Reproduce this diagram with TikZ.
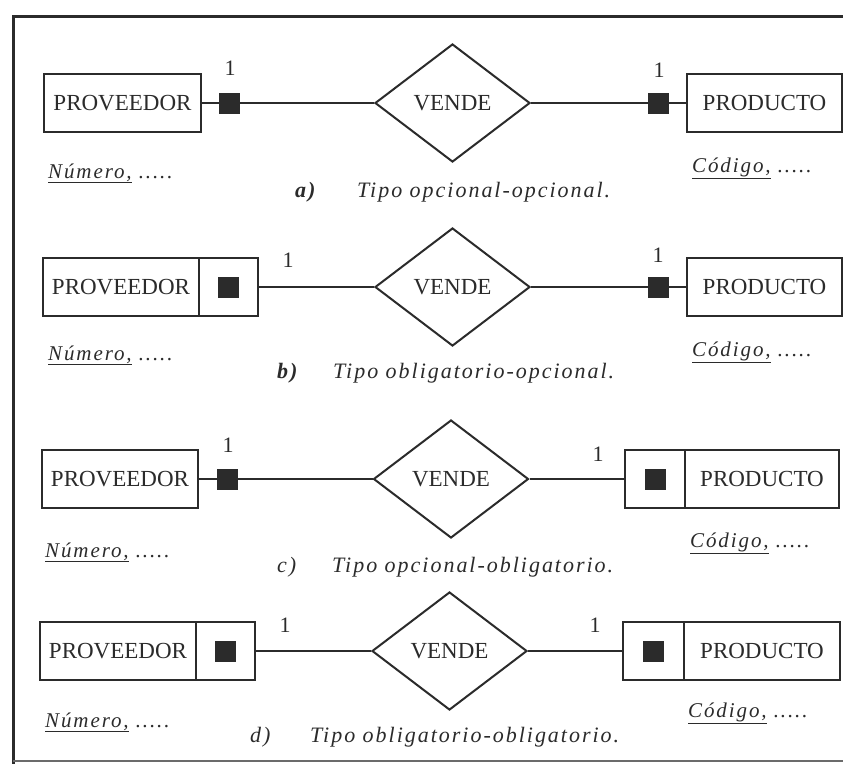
\documentclass[tikz,border=0pt]{standalone}
\usepackage{fontspec}
\setmainfont{Liberation Serif}
\newfontfamily\spacedserif{Liberation Serif}[LetterSpace=9]
\usetikzlibrary{shapes.geometric}

\definecolor{ink}{HTML}{2B2B2B}

\tikzset{
  ent/.style={draw=ink, line width=1.5pt, rectangle, inner sep=0pt,
    minimum height=58pt, text=ink, font=\fontsize{23}{24}\selectfont},
  cell/.style={draw=ink, line width=1.5pt, rectangle, inner sep=0pt,
    minimum height=58pt},
  dot/.style={fill=ink, draw=ink, rectangle, inner sep=0pt, minimum size=20pt},
  rel/.style={draw=ink, line width=2pt, diamond, inner sep=0pt,
    minimum width=155pt, minimum height=118pt, text=ink,
    font=\fontsize{23}{24}\selectfont},
  link/.style={draw=ink, line width=1.4pt},
  card/.style={anchor=base, text=ink, inner sep=0pt, font=\fontsize{22}{22}\selectfont},
  attr/.style={anchor=base west, text=ink, inner sep=0pt,
    font=\spacedserif\itshape\fontsize{21}{23}\selectfont},
  tag/.style={anchor=base west, text=ink, inner sep=0pt,
    font=\spacedserif\itshape\fontsize{22}{24}\selectfont},
  boldtag/.style={tag, font=\spacedserif\bfseries\itshape\fontsize{22}{24}\selectfont},
  frame/.style={draw=ink, line width=3pt}
}

\newcommand{\numattr}{\underline{Número,}\ .....}
\newcommand{\codattr}{\underline{Código,}\ .....}

\begin{document}
\begin{tikzpicture}[x=1pt,y=-1pt]
\useasboundingbox (0,0) rectangle (843,764);
\fill[white] (0,0) rectangle (843,764);

% outer frame (open on the right)
\coordinate (fa) at (13,16);
\coordinate (fb) at (843,16);
\coordinate (fc) at (13,764);
\coordinate (fd) at (13,761);
\coordinate (fe) at (843,761);
\draw[frame] (fb) -- (fa) -- (fc);
\draw[draw=ink!70, line width=1.5pt] (fd) -- (fe);

% ---------- a) opcional-opcional ----------
\node[ent, minimum width=157pt] (pa) at (122.5,103) {PROVEEDOR};
\node[dot] (ma1) at (229.5,103) {};
\node[rel] (ra) at (452.5,103) {VENDE};
\node[dot] (ma2) at (658,103) {};
\node[ent, minimum width=155pt] (qa) at (764.5,103) {PRODUCTO};
\draw[link] (pa.east) -- (ma1.west);
\draw[link] (ma1.east) -- (ra.west);
\draw[link] (ra.east) -- (ma2.west);
\draw[link] (ma2.east) -- (qa.west);
\node[card] (ka1) at (230,75) {1};
\node[card] (ka2) at (659,77) {1};
\node[attr] (na) at (48,178) {\numattr};
\node[attr] (ca) at (692,172) {\codattr};
\node[boldtag] (ta) at (295,197) {a)};
\node[tag] (xa) at (357,197) {Tipo opcional-opcional.};

% ---------- b) obligatorio-opcional ----------
\node[ent, minimum width=156pt] (pb) at (121,287) {PROVEEDOR};
\node[cell, minimum width=59pt] (cb) at (228.5,287) {};
\node[dot] (mb1) at (cb.center) {};
\node[rel] (rb) at (452.5,287) {VENDE};
\node[dot] (mb2) at (658,287) {};
\node[ent, minimum width=155pt] (qb) at (764.5,287) {PRODUCTO};
\draw[link] (cb.east) -- (rb.west);
\draw[link] (rb.east) -- (mb2.west);
\draw[link] (mb2.east) -- (qb.west);
\node[card] (kb1) at (288,267) {1};
\node[card] (kb2) at (658,262) {1};
\node[attr] (nb) at (48,360) {\numattr};
\node[attr] (cbx) at (692,356) {\codattr};
\node[boldtag] (tb) at (277,378) {b)};
\node[tag] (xb) at (333,378) {Tipo obligatorio-opcional.};

% ---------- c) opcional-obligatorio ----------
\node[ent, minimum width=156pt] (pc) at (120,479) {PROVEEDOR};
\node[dot] (mc1) at (227.5,479) {};
\node[rel] (rc) at (451,479) {VENDE};
\node[cell, minimum width=60pt] (cc) at (655,479) {};
\node[dot] (mc2) at (cc.center) {};
\node[ent, minimum width=154pt] (qc) at (762,479) {PRODUCTO};
\draw[link] (pc.east) -- (mc1.west);
\draw[link] (mc1.east) -- (rc.west);
\draw[link] (rc.east) -- (cc.west);
\node[card] (kc1) at (228,452) {1};
\node[card] (kc2) at (598,461) {1};
\node[attr] (nc) at (45,557) {\numattr};
\node[attr] (ccx) at (690,547) {\codattr};
\node[tag] (tc) at (277,572) {c)};
\node[tag] (xc) at (332,572) {Tipo opcional-obligatorio.};

% ---------- d) obligatorio-obligatorio ----------
\node[ent, minimum width=156pt] (pd) at (118,651) {PROVEEDOR};
\node[cell, minimum width=59pt] (cd1) at (225.5,651) {};
\node[dot] (md1) at (cd1.center) {};
\node[rel] (rd) at (449.5,651) {VENDE};
\node[cell, minimum width=61pt] (cd2) at (653.5,651) {};
\node[dot] (md2) at (cd2.center) {};
\node[ent, minimum width=156pt] (qd) at (762,651) {PRODUCTO};
\draw[link] (cd1.east) -- (rd.west);
\draw[link] (rd.east) -- (cd2.west);
\node[card] (kd1) at (285,632) {1};
\node[card] (kd2) at (595,632) {1};
\node[attr] (nd) at (45,727) {\numattr};
\node[attr] (cdx) at (688,717) {\codattr};
\node[tag] (td) at (250,742) {d)};
\node[tag] (xd) at (310,742) {Tipo obligatorio-obligatorio.};
\end{tikzpicture}
\end{document}
